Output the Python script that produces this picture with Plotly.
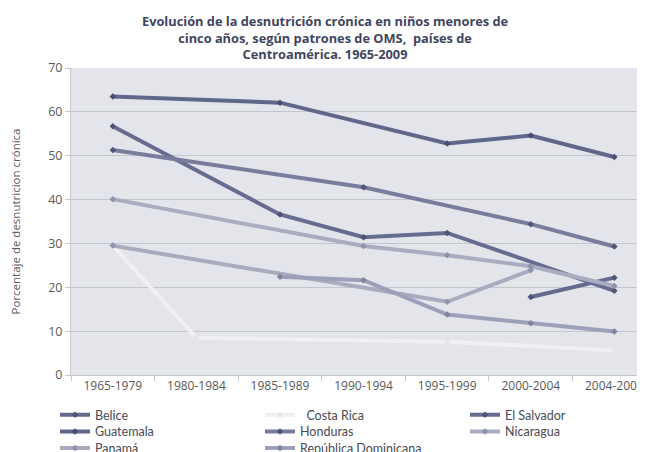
import plotly.graph_objects as go

categories = ["1965-1979", "1980-1984", "1985-1989", "1990-1994", "1995-1999", "2000-2004", "2004-2009"]

belice = [None, None, None, None, None, 17.8, 22.2]
costa_rica = [29.5, 8.5, None, None, 7.6, None, 5.6]
el_salvador = [56.7, None, 36.6, 31.4, 32.4, None, 19.2]
guatemala = [63.5, None, 62.1, None, 52.8, 54.6, 49.7]
honduras = [51.3, None, None, 42.8, None, 34.4, 29.3]
nicaragua = [40.1, None, None, 29.4, 27.3, 24.8, 20.3]
panama = [29.5, None, None, None, 16.7, 23.9, None]
rep_dominicana = [None, None, 22.4, 21.6, 13.8, 11.8, 9.9]

series = [
    ("Belice", belice, "#646a8c", "#4e5475", "legend"),
    ("\u00a0\u00a0Costa Rica", costa_rica, "#f1f1f4", "#e6e6ea", "legend"),
    ("El Salvador", el_salvador, "#666c8f", "#4e5475", "legend"),
    ("Guatemala", guatemala, "#60678a", "#4a5072", "legend2"),
    ("Honduras", honduras, "#787d9d", "#50567a", "legend2"),
    ("Nicaragua", nicaragua, "#aaadc1", "#8e92aa", "legend2"),
    ("Panamá", panama, "#a9abbe", "#8e92aa", "legend3"),
    ("República Dominicana", rep_dominicana, "#9ca0b8", "#7e83a0", "legend3"),
]

fig = go.Figure()
for name, vals, col, mcol, leg in series:
    fig.add_trace(go.Scatter(
        x=categories, y=vals, name=name, mode="lines+markers",
        connectgaps=True, legend=leg,
        line=dict(color=col, width=4),
        marker=dict(symbol="diamond", size=5, color=mcol),
    ))

title_text = ("Evolución de la desnutrición crónica en niños menores de<br>"
              "cinco años, según patrones de OMS,  países de<br>"
              "Centroamérica. 1965-2009")

fig.add_annotation(
    text=title_text, showarrow=False,
    xref="paper", x=(325 - 71) / 582, xanchor="center",
    yref="paper", y=1 + (60 - 2) / 307, yanchor="top",
    font=dict(family="Open Sans", size=12.8, color="#3f4560", weight="bold"),
    align="center",
)

leg_common = dict(
    orientation="h", x=-0.0275, xanchor="left", yanchor="top",
    entrywidth=160, entrywidthmode="pixels",
    font=dict(family="Lato", size=12.5, color="#4a4a55"),
    bgcolor="rgba(0,0,0,0)", tracegroupgap=0, itemwidth=30,
)

fig.update_layout(
    width=645, height=452,
    margin=dict(l=63, r=0, t=60, b=85, autoexpand=False),
    paper_bgcolor="white",
    plot_bgcolor="#e4e5eb",
    legend=dict(leg_common, y=-0.082),
    legend2=dict(leg_common, y=-0.136),
    legend3=dict(leg_common, y=-0.19),
    showlegend=True,
)

fig.update_xaxes(
    type="category", range=[-0.5, 6.462],
    showgrid=False, showline=True, linecolor="#c4c6ce", linewidth=1,
    ticks="outside", tickson="boundaries", ticklen=5, tickcolor="#c4c6ce",
    tickfont=dict(family="Open Sans", size=12, color="#595959"),
)
fig.update_yaxes(
    range=[0, 70], dtick=10,
    showgrid=True, gridcolor="#c3c5cf", gridwidth=1,
    showline=True, linecolor="#c4c6ce", linewidth=1,
    ticks="outside", ticklen=5, tickcolor="#c4c6ce",
    tickfont=dict(family="Open Sans", size=12.5, color="#595959"),
    title=dict(text="Porcentaje de desnutricion crónica", standoff=28,
               font=dict(family="Open Sans", size=11.5, color="#595959")),
    zeroline=False,
)

fig.write_html("out.html")
